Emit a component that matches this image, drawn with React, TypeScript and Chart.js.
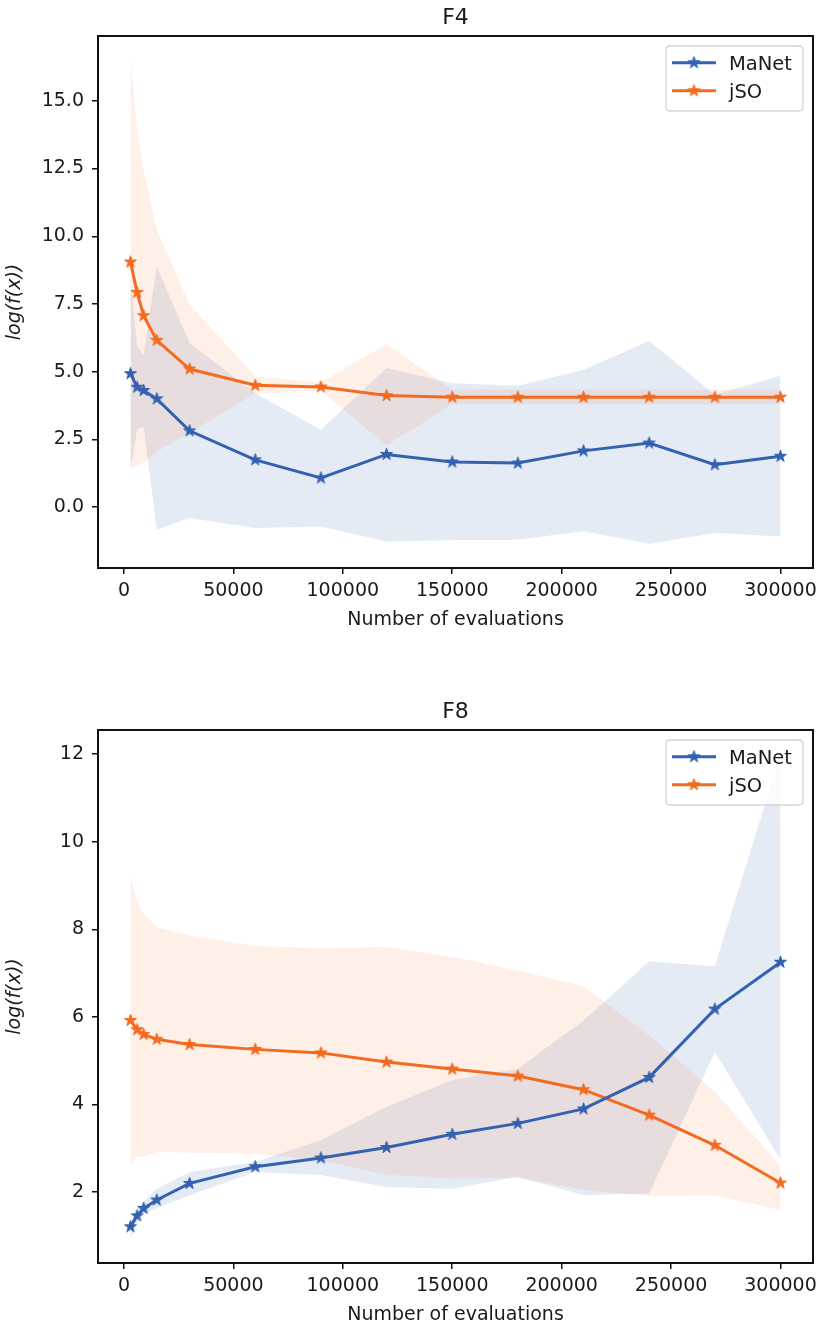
import React, { useEffect, useRef } from 'react';
import { Chart, registerables } from 'chart.js';

Chart.register(...registerables);

// ---------- data ----------
const evaluations = [3000, 6000, 9000, 15000, 30000, 60000, 90000, 120000, 150000, 180000, 210000, 240000, 270000, 300000];
const seriesNames = ['MaNet', 'jSO'];

// F4
const f4ManetMean = [4.93, 4.43, 4.31, 4.0, 2.82, 1.75, 1.08, 1.95, 1.67, 1.63, 2.08, 2.37, 1.57, 1.88];
const f4ManetUpper = [8.5, 5.93, 5.63, 8.89, 6.06, 4.21, 2.86, 5.14, 4.58, 4.48, 5.07, 6.14, 4.15, 4.85];
const f4ManetLower = [1.36, 2.86, 2.98, -0.83, -0.4, -0.77, -0.71, -1.26, -1.22, -1.2, -0.89, -1.35, -0.95, -1.08];
const f4JsoMean = [9.05, 7.93, 7.07, 6.16, 5.1, 4.5, 4.44, 4.12, 4.06, 4.06, 4.06, 4.06, 4.06, 4.06];
const f4JsoUpper = [16.5, 13.9, 12.4, 10.24, 7.47, 4.83, 4.6, 6.02, 4.35, 4.35, 4.35, 4.35, 4.35, 4.35];
const f4JsoLower = [1.45, 1.5, 1.65, 2.05, 2.75, 4.2, 4.3, 2.28, 3.8, 3.8, 3.8, 3.8, 3.8, 3.8];

// F8
const f8ManetMean = [1.21, 1.46, 1.63, 1.82, 2.2, 2.58, 2.78, 3.02, 3.32, 3.57, 3.9, 4.62, 6.18, 7.25];
const f8ManetUpper = [1.32, 1.6, 1.78, 2.08, 2.46, 2.69, 3.19, 3.95, 4.56, 4.82, 5.92, 7.27, 7.16, 12.0];
const f8ManetLower = [0.935, 1.3, 1.5, 1.63, 1.93, 2.46, 2.39, 2.12, 2.08, 2.35, 1.93, 1.97, 5.2, 2.75];
const f8JsoMean = [5.92, 5.71, 5.6, 5.49, 5.37, 5.26, 5.18, 4.97, 4.81, 4.65, 4.34, 3.76, 3.07, 2.21];
const f8JsoUpper = [9.19, 8.62, 8.36, 8.05, 7.86, 7.62, 7.57, 7.6, 7.37, 7.06, 6.7, 5.58, 4.3, 2.6];
const f8JsoLower = [2.67, 2.81, 2.81, 2.92, 2.9, 2.88, 2.73, 2.39, 2.31, 2.33, 2.05, 1.91, 1.93, 1.59];

// ticks
const xTickValues = [0, 50000, 100000, 150000, 200000, 250000, 300000];
const f4YTickValues = [0, 2.5, 5, 7.5, 10, 12.5, 15];
const f8YTickValues = [2, 4, 6, 8, 10, 12];

const xAxisLabel = 'Number of evaluations';
const yAxisLabel = 'log(f(x))';

// ---------- styles ----------
const BLUE = '#3461b0';
const ORANGE = '#f26b21';
const BLUE_FILL = 'rgba(52,97,176,0.13)';
const ORANGE_FILL = 'rgba(242,107,33,0.11)';
const TEXT = '#1a1a1a';
const FONT = '"DejaVu Sans", sans-serif';
const TICK_SIZE = 19;
const LEGEND_SIZE = 19.5;

function starImage(color: string, R: number): HTMLCanvasElement {
  const size = Math.ceil(R * 2 + 4);
  const c = document.createElement('canvas');
  c.width = size;
  c.height = size;
  const ctx = c.getContext('2d')!;
  const cx = size / 2;
  const cy = size / 2;
  const r = R * 0.381966;
  ctx.beginPath();
  for (let i = 0; i < 10; i++) {
    const rad = i % 2 === 0 ? R : r;
    const ang = -Math.PI / 2 + (i * Math.PI) / 5;
    const px = cx + rad * Math.cos(ang);
    const py = cy + rad * Math.sin(ang);
    if (i === 0) ctx.moveTo(px, py);
    else ctx.lineTo(px, py);
  }
  ctx.closePath();
  ctx.fillStyle = color;
  ctx.fill();
  ctx.lineWidth = 1;
  ctx.strokeStyle = color;
  ctx.lineJoin = 'miter';
  ctx.stroke();
  return c;
}

function autoLimits(arrays: number[][]): [number, number] {
  const all = arrays.flat();
  const mn = Math.min(...all);
  const mx = Math.max(...all);
  const m = (mx - mn) * 0.05;
  return [mn - m, mx + m];
}

const mplPlugin = {
  id: 'mpl',
  afterDatasetsDraw(chart: any, _args: any, opts: any) {
    const { ctx, chartArea: a } = chart;
    ctx.save();
    // frame (all four spines)
    ctx.lineWidth = 2;
    ctx.strokeStyle = '#111';
    ctx.strokeRect(a.left, a.top, a.right - a.left, a.bottom - a.top);
    // title
    ctx.fillStyle = TEXT;
    ctx.font = `22px ${FONT}`;
    ctx.textAlign = 'center';
    ctx.textBaseline = 'alphabetic';
    ctx.fillText(opts.title, (a.left + a.right) / 2, a.top - 12.5);
    // legend
    const items = chart.data.datasets.filter((d: any) => !d.band);
    const bx = a.right - 147;
    const by = a.top + 10;
    const bw = 137;
    const bh = 65;
    const rr = 4;
    ctx.beginPath();
    ctx.moveTo(bx + rr, by);
    ctx.lineTo(bx + bw - rr, by);
    ctx.quadraticCurveTo(bx + bw, by, bx + bw, by + rr);
    ctx.lineTo(bx + bw, by + bh - rr);
    ctx.quadraticCurveTo(bx + bw, by + bh, bx + bw - rr, by + bh);
    ctx.lineTo(bx + rr, by + bh);
    ctx.quadraticCurveTo(bx, by + bh, bx, by + bh - rr);
    ctx.lineTo(bx, by + rr);
    ctx.quadraticCurveTo(bx, by, bx + rr, by);
    ctx.closePath();
    ctx.fillStyle = 'rgba(255,255,255,0.8)';
    ctx.fill();
    ctx.lineWidth = 1.3;
    ctx.strokeStyle = 'rgba(204,204,204,0.85)';
    ctx.stroke();
    items.forEach((d: any, i: number) => {
      const y = a.top + 26.7 + i * 28;
      ctx.beginPath();
      ctx.moveTo(bx + 6, y);
      ctx.lineTo(bx + 50, y);
      ctx.lineWidth = 3;
      ctx.strokeStyle = d.borderColor;
      ctx.stroke();
      const img = d.pointStyle as HTMLCanvasElement;
      ctx.drawImage(img, bx + 28 - img.width / 2, y - img.height / 2);
      ctx.fillStyle = TEXT;
      ctx.font = `${LEGEND_SIZE}px ${FONT}`;
      ctx.textAlign = 'left';
      ctx.textBaseline = 'alphabetic';
      ctx.fillText(d.label, bx + 63, y + 7);
    });
    ctx.restore();
  },
};

type Spec = {
  title: string;
  manet: number[][]; // mean, upper, lower
  jso: number[][];
  yTicks: number[];
  yDecimals: number;
  chartTop: number;
};

function buildConfig(spec: Spec): any {
  const [mMean, mUp, mLo] = spec.manet;
  const [jMean, jUp, jLo] = spec.jso;
  const pts = (arr: number[]) => evaluations.map((x, i) => ({ x, y: arr[i] }));
  const [xmin, xmax] = autoLimits([evaluations]);
  const [ymin, ymax] = autoLimits([mUp, mLo, jUp, jLo, mMean, jMean]);
  const blueStar = starImage(BLUE, 6.3);
  const orangeStar = starImage(ORANGE, 6.3);
  const tickFont = { family: FONT, size: TICK_SIZE };
  const grid = {
    display: true,
    drawOnChartArea: false,
    drawTicks: true,
    tickLength: 6,
    tickWidth: 1.5,
    tickColor: '#111',
    lineWidth: 1.5,
    color: '#111',
  };
  return {
    type: 'line',
    data: {
      datasets: [
        {
          label: seriesNames[0],
          data: pts(mMean),
          borderColor: BLUE,
          backgroundColor: BLUE,
          borderWidth: 3,
          pointStyle: blueStar,
          pointRadius: 6,
          pointHoverRadius: 6,
          fill: false,
        },
        {
          label: seriesNames[1],
          data: pts(jMean),
          borderColor: ORANGE,
          backgroundColor: ORANGE,
          borderWidth: 3,
          pointStyle: orangeStar,
          pointRadius: 6,
          pointHoverRadius: 6,
          fill: false,
        },
        { band: true, label: 'jSO upper', data: pts(jUp), borderWidth: 0, pointRadius: 0, fill: false, borderColor: 'transparent', backgroundColor: ORANGE_FILL },
        { band: true, label: 'jSO lower', data: pts(jLo), borderWidth: 0, pointRadius: 0, fill: '-1', borderColor: 'transparent', backgroundColor: ORANGE_FILL },
        { band: true, label: 'MaNet upper', data: pts(mUp), borderWidth: 0, pointRadius: 0, fill: false, borderColor: 'transparent', backgroundColor: BLUE_FILL },
        { band: true, label: 'MaNet lower', data: pts(mLo), borderWidth: 0, pointRadius: 0, fill: '-1', borderColor: 'transparent', backgroundColor: BLUE_FILL },
      ],
    },
    options: {
      responsive: false,
      animation: false,
      devicePixelRatio: 1,
      layout: { padding: { top: spec.chartTop, right: 12, left: 0, bottom: 0 } },
      plugins: {
        legend: { display: false },
        tooltip: { enabled: false },
        title: { display: false },
        filler: { propagate: false },
        mpl: { title: spec.title },
      },
      scales: {
        x: {
          type: 'linear',
          min: xmin,
          max: xmax,
          bounds: 'data',
          afterBuildTicks: (s: any) => {
            s.ticks = xTickValues.map((v) => ({ value: v }));
          },
          afterFit: (s: any) => {
            s.height = 65;
          },
          ticks: {
            autoSkip: false,
            maxRotation: 0,
            minRotation: 0,
            padding: 6,
            color: TEXT,
            font: tickFont,
            callback: (v: any) => String(v),
          },
          grid,
          border: { display: false },
          title: {
            display: true,
            text: xAxisLabel,
            color: TEXT,
            font: tickFont,
            padding: { top: 4, bottom: 2 },
          },
        },
        y: {
          type: 'linear',
          min: ymin,
          max: ymax,
          bounds: 'data',
          afterBuildTicks: (s: any) => {
            s.ticks = spec.yTicks.map((v) => ({ value: v }));
          },
          afterFit: (s: any) => {
            s.width = 98;
          },
          ticks: {
            autoSkip: false,
            padding: 8,
            color: TEXT,
            font: tickFont,
            callback: (v: any) => Number(v).toFixed(spec.yDecimals),
          },
          grid,
          border: { display: false },
          title: {
            display: true,
            text: yAxisLabel,
            color: TEXT,
            font: { family: FONT, size: TICK_SIZE, style: 'italic' },
            padding: { top: 4, bottom: 4 },
          },
        },
      },
    },
    plugins: [mplPlugin],
  };
}

function Panel({ spec, top, height }: { spec: Spec; top: number; height: number }) {
  const ref = useRef<HTMLCanvasElement>(null);
  useEffect(() => {
    const chart = new Chart(ref.current!, buildConfig(spec));
    return () => chart.destroy();
  }, []);
  return (
    <canvas
      ref={ref}
      width={825}
      height={height}
      style={{ position: 'absolute', left: 0, top, width: 825, height }}
    />
  );
}

const f4Spec: Spec = {
  title: 'F4',
  manet: [f4ManetMean, f4ManetUpper, f4ManetLower],
  jso: [f4JsoMean, f4JsoUpper, f4JsoLower],
  yTicks: f4YTickValues,
  yDecimals: 1,
  chartTop: 36,
};

const f8Spec: Spec = {
  title: 'F8',
  manet: [f8ManetMean, f8ManetUpper, f8ManetLower],
  jso: [f8JsoMean, f8JsoUpper, f8JsoLower],
  yTicks: f8YTickValues,
  yDecimals: 0,
  chartTop: 66,
};

export default function App() {
  return (
    <div
      style={{
        position: 'fixed',
        left: 0,
        top: 0,
        width: 825,
        height: 1328,
        background: '#fff',
        overflow: 'hidden',
      }}
    >
      <Panel spec={f4Spec} top={0} height={633} />
      <Panel spec={f8Spec} top={664} height={664} />
    </div>
  );
}
